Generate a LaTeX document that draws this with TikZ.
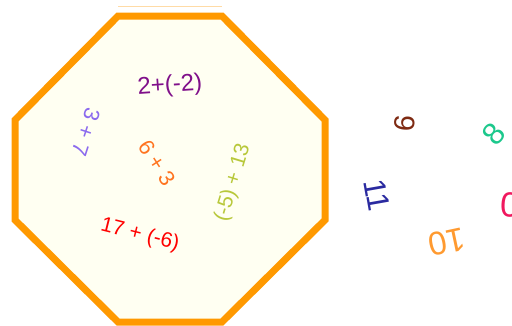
\documentclass[tikz,border=0pt]{standalone}
\usepackage{fontspec}
\setmainfont{Liberation Sans}
\definecolor{rim}{HTML}{FF9900}
\definecolor{paper}{HTML}{FFFFF2}
\definecolor{plum}{HTML}{80108A}
\definecolor{lilac}{HTML}{8B6AEE}
\definecolor{tangerine}{HTML}{FF7420}
\definecolor{olive}{HTML}{B8C83A}
\definecolor{brick}{HTML}{7E2A12}
\definecolor{mint}{HTML}{1CC88C}
\definecolor{navy}{HTML}{2A2AA0}
\definecolor{peach}{HTML}{FF9A30}
\definecolor{rose}{HTML}{F0185E}
\begin{document}
\begin{tikzpicture}[x=1pt, y=1pt,
    sum/.style={inner sep=0pt, font=\fontsize{22}{22}\selectfont},
    clock/.style={inner sep=0pt, font=\fontsize{31}{31}\selectfont}]
    \useasboundingbox (0,0) rectangle (512,-325);
    \clip (0,0) rectangle (512,-325);
    % Octagon
    \draw[line width=7pt, draw=rim, fill=paper, line join=miter]
        (118,-16) -- (222,-16) -- (325,-120) -- (325,-220) -- (222,-322)
        -- (118,-322) -- (15,-220) -- (15,-120) -- cycle;
    \draw[line width=1pt, draw=rim!35] (118,-6) -- (222,-6);

    % Sums inside
    \node[sum, text=plum, rotate=4, font=\fontsize{24}{24}\selectfont] (s1) at (170,-86) {2+(-2)};
    \node[sum, text=lilac, rotate=-108] (s2) at (86,-132) {3 + 7};
    \node[sum, text=tangerine, rotate=-57] (s3) at (157,-163) {6 + 3};
    \node[sum, text=olive, rotate=73, font=\fontsize{21}{21}\selectfont] (s4) at (233,-183) {(-5) + 13};
    \node[sum, text=red, rotate=-14, font=\fontsize{21}{21}\selectfont] (s5) at (140,-235) {17 + (-6)};

    % Loose numbers
    \node[clock, text=brick, rotate=-95, font=\fontsize{29}{29}\selectfont] (n9) at (405,-123) {9};
    \node[clock, text=mint, rotate=50] (n8) at (494,-134) {8};
    \node[clock, text=navy, rotate=-80] (n11) at (377,-195) {11};
    \node[clock, text=peach, rotate=192, font=\fontsize{33}{33}\selectfont] (n10) at (447,-242) {10};
    \node[clock, text=rose, rotate=-3, font=\fontsize{35}{35}\selectfont] (n0) at (510,-205) {0};
\end{tikzpicture}
\end{document}
